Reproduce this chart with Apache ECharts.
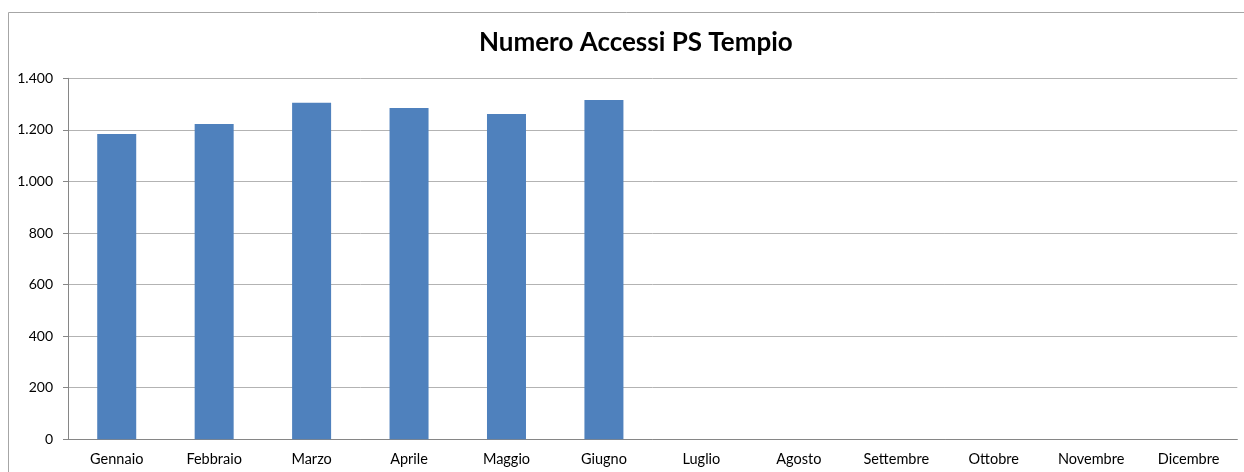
<!DOCTYPE html>
<html>
<head>
<meta charset="utf-8">
<script src="https://cdn.jsdelivr.net/npm/echarts@6/dist/echarts.min.js"></script>
<style>html,body{margin:0;padding:0;background:#fff;}#c{width:1244px;height:472px;}</style>
</head>
<body>
<div id="c"></div>
<script>
const title = 'Numero Accessi PS Tempio';
const months = ['Gennaio','Febbraio','Marzo','Aprile','Maggio','Giugno','Luglio','Agosto','Settembre','Ottobre','Novembre','Dicembre'];
const accessi = [1184, 1223, 1305, 1285, 1262, 1316, null, null, null, null, null, null];
const yTicks = {min: 0, max: 1400, interval: 200};

const fmt = v => String(v).replace(/\B(?=(\d{3})+(?!\d))/g, '.');
const chart = echarts.init(document.getElementById('c'), null, {renderer: 'canvas'});
chart.setOption({
  animation: false,
  backgroundColor: '#fff',
  title: {
    text: title, left: 474, top: 25,
    textStyle: {fontFamily: 'Lato', fontWeight: 'bold', fontSize: 26, color: '#000'}
  },
  graphic: [{
    type: 'polyline', silent: true,
    shape: {points: [[8.5, 472], [8.5, 12.5], [1244, 12.5]]},
    style: {stroke: '#a6a6a6', lineWidth: 1, fill: null}
  }],
  grid: {left: 68, right: 6.7, top: 78.3, bottom: 32.7, containLabel: false},
  xAxis: {
    type: 'category', data: months,
    axisLine: {lineStyle: {color: '#868686', width: 1}},
    axisTick: {show: false},
    axisLabel: {color: '#000', fontFamily: 'Lato', fontSize: 14.5, margin: 13, interval: 0}
  },
  yAxis: {
    type: 'value', min: yTicks.min, max: yTicks.max, interval: yTicks.interval,
    axisLine: {show: true, lineStyle: {color: '#868686', width: 1}},
    axisTick: {show: true, inside: false, length: 5, lineStyle: {color: '#868686'}},
    axisLabel: {color: '#000', fontFamily: 'Lato', fontSize: 14, margin: 15, formatter: fmt},
    splitLine: {lineStyle: {color: '#b3b3b3', width: 1}}
  },
  series: [{
    type: 'bar', data: accessi, barWidth: 39,
    itemStyle: {color: '#4f81bd'}
  }]
});
</script>
</body>
</html>
